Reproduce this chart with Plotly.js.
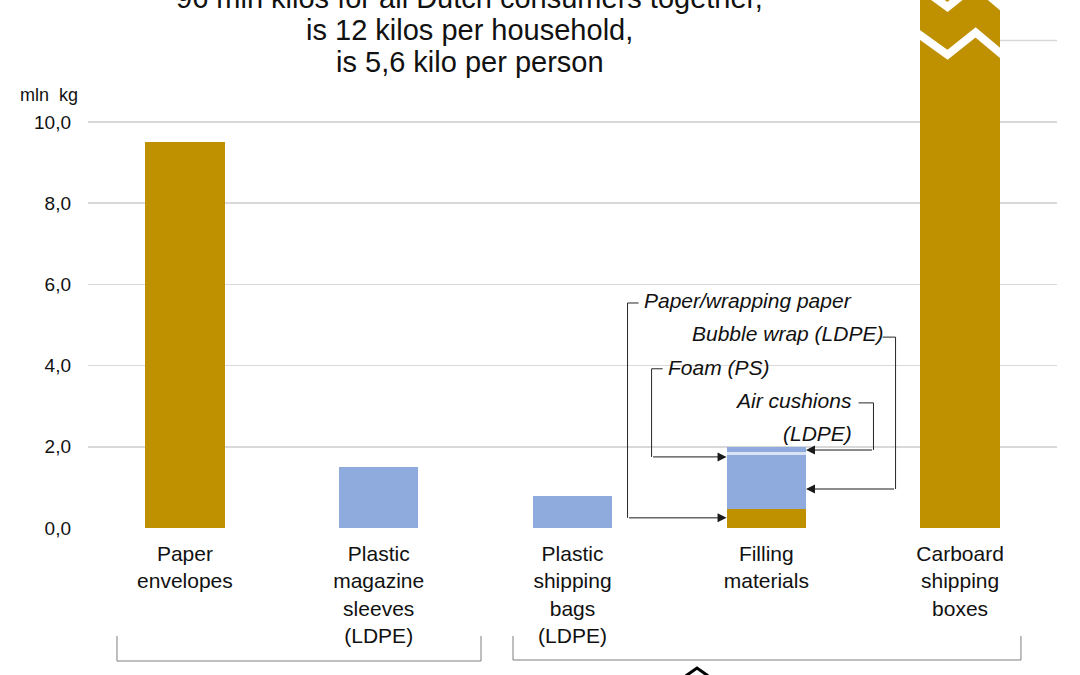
<!DOCTYPE html>
<html>
<head>
<meta charset="utf-8">
<script src="https://cdn.plot.ly/plotly-3.0.1.min.js"></script>
<style>html,body{margin:0;padding:0;background:#fff;}#chart{width:1080px;height:675px;}</style>
</head>
<body>
<div id="chart"></div>
<script>
// ---- data ----
const categories = ['Paper envelopes', 'Plastic magazine sleeves (LDPE)', 'Plastic shipping bags (LDPE)', 'Filling materials', 'Carboard shipping boxes'];
const categoryLabels = ['Paper<br>envelopes', 'Plastic<br>magazine<br>sleeves<br>(LDPE)', 'Plastic<br>shipping<br>bags<br>(LDPE)', 'Filling<br>materials', 'Carboard<br>shipping<br>boxes'];
const packagingValues = [9.5, 1.5, 0.8, null, 82.2];   // mln kg (cardboard bar is cut off above the axis)
const packagingMaterial = ['paper', 'plastic', 'plastic', null, 'paper'];
const fillingParts = ['Paper/wrapping paper', 'Bubble wrap (LDPE)', 'Foam (PS)', 'Air cushions (LDPE)'];
const fillingValues = [0.47, 1.33, 0.07, 0.12];
const yTickValues = [0, 2, 4, 6, 8, 10];
const titleLines = ['96 mln kilos for all Dutch consumers together,', 'is 12 kilos per household,', 'is 5,6 kilo per person'];

// ---- styles ----
const GOLD = '#BF9000', BLUE = '#8FAADC', PALE = '#DAE3F3';
const materialColor = {paper: GOLD, plastic: BLUE};
const fillingColors = [GOLD, BLUE, PALE, BLUE];
const FONT = 'Liberation Sans, Arial, sans-serif';
const BARW = 0.41;

const traces = [{
  type: 'bar', x: categories, y: packagingValues, width: BARW,
  marker: {color: packagingMaterial.map(m => materialColor[m] || GOLD)},
  hoverinfo: 'x+y', showlegend: false
}];
fillingParts.forEach((p, i) => {
  traces.push({type: 'bar', name: p, x: [categories[3]], y: [fillingValues[i]], width: BARW,
    marker: {color: fillingColors[i]}, showlegend: false});
});

const fillL = 3 - BARW / 2, fillR = 3 + BARW / 2;
const boxC = 4, boxL = boxC - BARW / 2, boxR = boxC + BARW / 2;

const lineStyle = {color: '#262626', width: 1};
const shapes = [
  // partial gridline at 12 to the right of the cardboard bar
  {type: 'line', xref: 'x', yref: 'y', x0: boxR, x1: 4.5, y0: 12, y1: 12, line: {color: '#D9D9D9', width: 1.5}, layer: 'below'},
  // axis-break marks on the cardboard bar
  {type: 'path', xref: 'x', yref: 'y', layer: 'above', line: {color: '#ffffff', width: 8},
    path: `M${boxL - 0.02},12.2 L${boxC - 0.065},11.65 L${boxC + 0.08},12.2 L${boxR + 0.02},11.62`},
  {type: 'path', xref: 'x', yref: 'y', layer: 'above', line: {color: '#ffffff', width: 8},
    path: `M${boxL - 0.02},13.38 L${boxC - 0.065},12.83 L${boxC + 0.08},13.38 L${boxR + 0.02},12.8`},
  // connectors of the filling annotations
  {type: 'path', xref: 'x', yref: 'y', line: lineStyle, path: 'M2.341,5.54 L2.284,5.54 L2.284,0.25'},
  {type: 'path', xref: 'x', yref: 'y', line: lineStyle, path: 'M3.600,4.70 L3.667,4.70 L3.667,0.96'},
  {type: 'path', xref: 'x', yref: 'y', line: lineStyle, path: 'M2.465,3.92 L2.408,3.92 L2.408,1.75'},
  {type: 'path', xref: 'x', yref: 'y', line: lineStyle, path: 'M3.476,3.08 L3.553,3.08 L3.553,1.92'},
  // brackets below the categories
  {type: 'path', xref: 'paper', yref: 'paper', line: {color: '#7F7F7F', width: 1},
    path: 'M0.0299,-0.2045 L0.0299,-0.2519 L0.4056,-0.2519 L0.4056,-0.2045'},
  {type: 'path', xref: 'paper', yref: 'paper', line: {color: '#7F7F7F', width: 1},
    path: 'M0.4386,-0.2045 L0.4386,-0.2500 L0.9628,-0.2500 L0.9628,-0.2045'},
  // partially visible chevron at the bottom edge
  {type: 'path', xref: 'paper', yref: 'paper', line: {color: '#000000', width: 3},
    path: 'M0.6171,-0.2800 L0.6285,-0.2652 L0.6398,-0.2800'}
];

function arrow(x, y, ax, ay) {
  return {xref: 'x', yref: 'y', axref: 'x', ayref: 'y', x: x, y: y, ax: ax, ay: ay, text: '',
    showarrow: true, arrowhead: 2, arrowsize: 1.8, arrowwidth: 1, arrowcolor: '#1a1a1a', standoff: 0};
}
function label(txt, x, y, anchor) {
  return {xref: 'x', yref: 'y', x: x, y: y, text: '<i>' + txt + '</i>', showarrow: false,
    xanchor: anchor, yanchor: 'middle', font: {family: FONT, size: 21, color: '#111111'}};
}

const annotations = [
  arrow(fillL, 0.25, 2.284, 0.25),
  arrow(fillR, 0.96, 3.667, 0.96),
  arrow(fillL, 1.75, 2.408, 1.75),
  arrow(fillR, 1.92, 3.553, 1.92),
  label('Paper/wrapping paper', 2.36, 5.59, 'left'),
  label('Bubble wrap (LDPE)', 3.61, 4.78, 'right'),
  label('Foam (PS)', 2.485, 3.94, 'left'),
  label('Air cushions', 3.455, 3.13, 'right'),
  label('(LDPE)', 3.455, 2.32, 'right'),
  {xref: 'paper', yref: 'paper', x: -0.072, y: 1 - 95 / 528, text: 'mln  kg', showarrow: false,
    xanchor: 'left', yanchor: 'middle', font: {family: FONT, size: 18, color: '#111111'}}
];
const titleY = [1.004, 1 - 30 / 528, 1 - 62 / 528];
titleLines.forEach((t, i) => annotations.push({xref: 'paper', yref: 'paper', x: 0.394, y: titleY[i], text: t,
  showarrow: false, xanchor: 'center', yanchor: 'middle', font: {family: FONT, size: 29, color: '#111111'}}));

const layout = {
  width: 1080, height: 675,
  margin: {l: 88, r: 23, t: 0, b: 147},
  paper_bgcolor: '#ffffff', plot_bgcolor: '#ffffff',
  barmode: 'stack', showlegend: false,
  separators: ', ',
  font: {family: FONT, color: '#111111'},
  xaxis: {type: 'category', range: [-0.5, 4.5], tickvals: categories, ticktext: categoryLabels,
    showgrid: false, zeroline: false, showline: false, ticks: '', ticklabelstandoff: 11,
    tickfont: {family: FONT, size: 21, color: '#111111'}, fixedrange: true},
  yaxis: {range: [0, 13], tickvals: yTickValues, tickformat: '.1f', showgrid: true,
    gridcolor: '#D9D9D9', gridwidth: 1.5, zeroline: false, showline: false, ticks: '',
    ticklabelstandoff: 16, tickfont: {family: FONT, size: 19, color: '#111111'}, fixedrange: true},
  shapes: shapes, annotations: annotations
};

Plotly.newPlot('chart', traces, layout, {displayModeBar: false, staticPlot: true});
</script>
</body>
</html>
